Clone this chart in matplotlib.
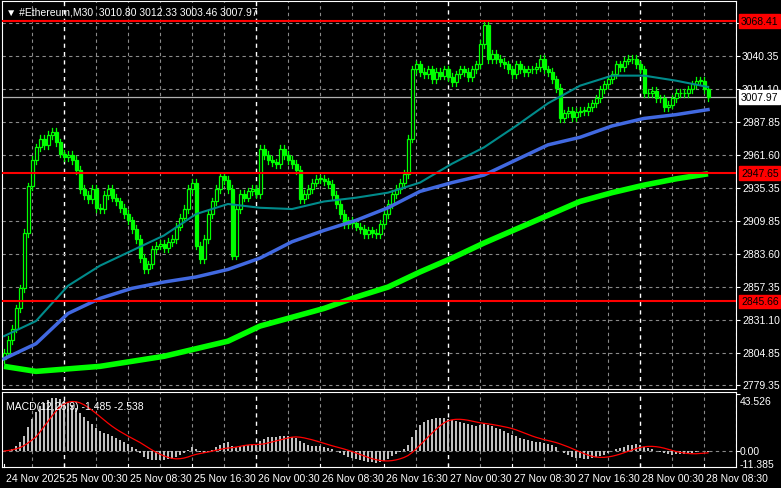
import matplotlib.pyplot as plt
import numpy as np
import pandas as pd

plt.rcParams["font.family"] = ["Liberation Sans", "DejaVu Sans"]

# closes per 30-min bar
closes = [2805, 2815, 2824, 2840, 2856, 2900, 2937, 2958, 2968, 2975, 2970, 2978, 2980,
          2972, 2963, 2960, 2962, 2958, 2950, 2935, 2930, 2927, 2935, 2920, 2919, 2930,
          2935, 2928, 2925, 2920, 2915, 2910, 2903, 2895, 2880, 2871, 2875, 2887, 2890,
          2891, 2888, 2893, 2895, 2905, 2912, 2919, 2935, 2940, 2890, 2879, 2895, 2915,
          2925, 2935, 2945, 2942, 2935, 2882, 2919, 2931, 2928, 2933, 2935, 2931, 2967,
          2962, 2958, 2956, 2955, 2967, 2962, 2958, 2955, 2950, 2927, 2931, 2935, 2940,
          2943, 2943, 2941, 2939, 2930, 2923, 2915, 2907, 2910, 2908, 2905, 2903, 2899,
          2902, 2900, 2899, 2907, 2915, 2923, 2931, 2935, 2940, 2947, 2975, 3030, 3034,
          3028, 3026, 3030, 3022, 3028, 3025, 3030, 3024, 3020, 3026, 3030, 3028, 3024,
          3030, 3034, 3050, 3065, 3038, 3042, 3038, 3036, 3034, 3030, 3026, 3034, 3030,
          3028, 3030, 3030, 3032, 3038, 3030, 3028, 3022, 3015, 2991, 2995, 2997, 2992,
          2996, 2997, 2997, 3000, 3003, 3007, 3014, 3018, 3022, 3026, 3034, 3032, 3037,
          3038, 3038, 3034, 3030, 3011, 3011, 3013, 3007, 3007, 3000, 3002, 3007, 3011,
          3011, 3011, 3014, 3018, 3021, 3021, 3014, 3007.97]
first_open = 2800

# moving averages read every 8 bars
ma_bars = list(range(0, 177, 8))
ma_fast = [2818, 2830, 2858, 2874, 2886, 2898, 2915, 2923, 2920, 2919, 2925, 2928, 2932,
           2940, 2955, 2968, 2985, 3003, 3017, 3025, 3025, 3021, 3016]
ma_mid = [2800, 2812, 2836, 2848, 2856, 2861, 2865, 2871, 2880, 2893, 2902, 2910, 2920,
          2933, 2940, 2946, 2958, 2970, 2976, 2985, 2991, 2994, 2998]
ma_slow = [2794, 2790, 2792, 2794, 2798, 2802, 2808, 2814, 2826, 2833, 2840, 2849, 2857,
           2869, 2880, 2892, 2903, 2914, 2925, 2932, 2938, 2943, 2947]

price_ticks = [3066.60, 3040.35, 3014.10, 2987.85, 2961.60, 2935.35, 2909.85, 2883.60,
               2857.35, 2831.10, 2804.85, 2779.35]
levels = [3068.41, 2947.65, 2845.66]
last_price = 3007.97
time_labels = ["24 Nov 2025", "25 Nov 00:30", "25 Nov 08:30", "25 Nov 16:30", "26 Nov 00:30",
               "26 Nov 08:30", "26 Nov 16:30", "27 Nov 00:30", "27 Nov 08:30", "27 Nov 16:30",
               "28 Nov 00:30", "28 Nov 08:30"]

c = np.array(closes, float)
o = np.concatenate([[first_open], c[:-1]])
h = np.maximum(o, c) + 3
l = np.minimum(o, c) - 3
n = len(c)
x = np.arange(n)

s = pd.Series(c)
macd = s.ewm(span=12, adjust=False).mean() - s.ewm(span=26, adjust=False).mean()
signal = macd.rolling(9, min_periods=1).mean()

W, H = 781, 489
fig = plt.figure(figsize=(W / 100, H / 100), dpi=100, facecolor="black")
ax = fig.add_axes([2 / W, (H - 390) / H, 734 / W, 388 / H], facecolor="black")
mx = fig.add_axes([2 / W, (H - 468) / H, 734 / W, 75 / H], facecolor="black")
xlim = (-0.5, 183)
grid_kw = dict(color="#8a8a8a", lw=0.8, ls=(0, (3, 3)))
fs = 7.5

for a in (ax, mx):
    a.set_xlim(*xlim)
    for sp in a.spines.values():
        sp.set_color("white")
    a.tick_params(left=False, bottom=False, labelbottom=False, right=True, labelright=False,
                  colors="white", length=3)
    for b in range(7, n + 8, 8):
        if (b - 15) % 48 == 0:
            a.axvline(b, color="white", lw=1, ls=(0, (3, 3)), zorder=0)
        else:
            a.axvline(b, zorder=0, **grid_kw)

ax.set_ylim(2776.0, 3084.3)
ax.set_yticks(price_ticks)
for p in price_ticks:
    ax.axhline(p, zorder=0, **grid_kw)
    fig.text(742 / W, ax.transData.transform((0, p))[1] / H, f"{p:.2f}", color="white",
             fontsize=fs, va="center")

# candles
for i in range(n):
    ax.plot([x[i], x[i]], [l[i], h[i]], color="#00ff00", lw=0.9, zorder=3)
    up = c[i] >= o[i]
    ax.bar(x[i], abs(c[i] - o[i]) or 0.4, bottom=min(o[i], c[i]), width=0.75,
           facecolor="black" if up else "#00ff00", edgecolor="#00ff00", lw=0.9, zorder=4)

ax.plot(ma_bars, ma_slow, color="#00ff00", lw=4, zorder=5, solid_capstyle="butt")
ax.plot(ma_bars, ma_mid, color="#4169e1", lw=2.5, zorder=5)
ax.plot(ma_bars, ma_fast, color="#008b8b", lw=1.5, zorder=5)

ax.axhline(last_price, color="#b0b0b0", lw=0.9, zorder=2)
yl = ax.transData.transform((0, last_price))[1] / H
fig.text(741 / W, yl, f"{last_price:.2f}", color="black", fontsize=fs, va="center",
         bbox=dict(boxstyle="square,pad=0.15", fc="white", ec="white"))
for lv in levels:
    ax.axhline(lv, color="red", lw=1.5, zorder=6)
    yv = ax.transData.transform((0, lv))[1] / H
    fig.text(741 / W, yv, f"{lv:.2f}", color="black", fontsize=fs, va="center",
             bbox=dict(boxstyle="square,pad=0.15", fc="red", ec="red"))

ax.text(0.005, 0.985, "\u25bc #Ethereum,M30  3010.80 3012.33 3003.46 3007.97",
        transform=ax.transAxes, color="white", fontsize=fs, va="top", zorder=10)

# MACD panel
mx.set_ylim(-13.93, 51.36)
mx.bar(x, macd, width=0.7, color="#c0c0c0", zorder=3)
mx.plot(x, signal, color="red", lw=0.9, zorder=4)
mx.axhline(0, zorder=0, **grid_kw)
for v in (43.526, 0.0, -11.385):
    fig.text(740 / W, mx.transData.transform((0, v))[1] / H, f"{v:.3f}" if v else "0.00",
             color="white", fontsize=fs, va="center")
mx.text(0.005, 0.88, "MACD(12,26,9) -1.485 -2.538", transform=mx.transAxes,
        color="white", fontsize=fs, va="top", zorder=10)

for k, lab in enumerate(time_labels):
    b = 0 if k == 0 else 15 + 16 * (k - 1)
    px = mx.transData.transform((b, 0))[0] / W
    fig.text(px + 2 / W, (H - 479) / H, lab, color="white", fontsize=fs, va="center")
    mx.plot([b, b], [-13.93, -11.5], color="white", lw=0.8, clip_on=False)

fig.savefig("out.png", dpi=100, facecolor="black")
